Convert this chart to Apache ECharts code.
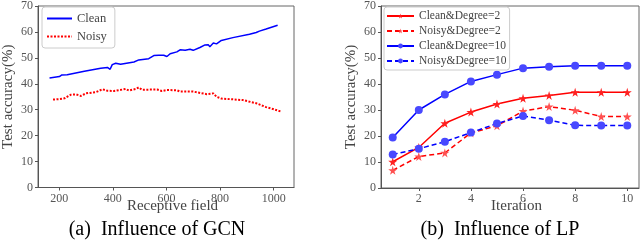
<!DOCTYPE html>
<html>
<head>
<meta charset="utf-8">
<script src="https://cdn.jsdelivr.net/npm/echarts@6/dist/echarts.min.js"></script>
<style>html,body{margin:0;padding:0;background:#fff;}#c{width:640px;height:244px;}</style>
</head>
<body>
<div id="c"></div>
<script>
// ---- Panel (a): Influence of GCN ----
const cleanField = [164,201,210,214,230,294,355,380,390,398,411,429,479,497,534,553,571,577,590,602,614,639,651,670,688,700,725,744,756,762,775,787,805,848,910,935,947,972,1015];
const cleanAcc   = [42.2,42.8,43.4,43.2,43.5,44.8,46.0,46.3,45.6,47.4,47.9,47.5,48.4,49.2,49.7,50.9,51.0,50.3,51.0,50.5,51.6,52.3,53.1,52.9,53.3,52.9,54.0,55.0,55.1,54.3,55.7,55.4,56.7,57.8,59.1,59.8,60.3,61.1,62.6];
const noisyField = [177,201,220,232,244,263,281,300,337,362,380,405,448,460,485,497,509,565,583,602,639,651,700,750,775,787,805,848,886,935,972,997,1027];
const noisyAcc   = [33.9,34.1,34.4,35.1,35.8,35.9,35.3,36.3,36.8,37.9,37.3,37.2,38.0,37.4,38.0,38.6,37.7,37.8,37.2,37.6,37.5,37.0,37.0,36.0,36.3,35.0,34.3,34.0,33.7,32.5,31.0,30.3,29.3];
const gcnTicks = [200,400,600,800,1000];

// ---- Panel (b): Influence of LP ----
const iterations   = [1,2,3,4,5,6,7,8,9,10];
const cleanDeg2    = [10.1,15.6,24.9,29.2,32.3,34.5,35.6,36.8,36.8,36.8];
const noisyDeg2    = [6.8,12.1,13.5,21.2,23.9,29.6,31.3,29.9,27.5,27.5];
const cleanDeg10   = [19.4,30.0,36.0,41.0,43.6,46.1,46.6,47.0,47.0,47.0];
const noisyDeg10   = [12.9,15.1,17.8,21.3,24.8,27.7,26.1,24.1,24.0,24.0];
const lpTicks = [2,4,6,8,10];

const accTicksMax = 70;
const FONT = '"Liberation Serif","Times New Roman",serif';
const STAR = 'path://M50,0 L61,35 L98,35 L68,57 L79,91 L50,70 L21,91 L32,57 L2,35 L39,35 Z';

const zip = (xs, ys) => xs.map((x, i) => [x, ys[i]]);

const axisCommon = {
  axisLine: { show: true, lineStyle: { color: '#555', width: 1 } },
  axisTick: { show: true, inside: false, length: 3, lineStyle: { color: '#555' } },
  splitLine: { show: false },
  axisLabel: { color: '#555', fontFamily: FONT, fontSize: 12, margin: 5, formatter: v => String(v) },
  nameTextStyle: { color: '#444', fontFamily: FONT, fontSize: 15 }
};

function yAxis(gridIndex) {
  return Object.assign({}, axisCommon, {
    type: 'value', gridIndex, min: 0, max: accTicksMax, interval: 10,
    name: 'Test accuracy(%)', nameLocation: 'middle', nameGap: 22
  });
}

const xNameStyle = Object.assign({}, axisCommon.nameTextStyle, { padding: [0, 0, 0, 13] });

const chart = echarts.init(document.getElementById('c'), null, { renderer: 'canvas' });
chart.setOption({
  animation: false,
  backgroundColor: '#fff',
  textStyle: { fontFamily: FONT },
  grid: [
    { left: 36, right: 346, top: 4, bottom: 56.5, show: true, borderColor: '#666', borderWidth: 1, backgroundColor: 'transparent', containLabel: false },
    { left: 381, right: 1, top: 5.5, bottom: 56, show: true, borderColor: '#666', borderWidth: 1, backgroundColor: 'transparent', containLabel: false }
  ],
  xAxis: [
    Object.assign({}, axisCommon, {
      type: 'value', gridIndex: 0, min: 121, max: 1076,
      axisTick: Object.assign({}, axisCommon.axisTick, { customValues: gcnTicks }),
      axisLabel: Object.assign({}, axisCommon.axisLabel, { customValues: gcnTicks }),
      name: 'Receptive field', nameLocation: 'middle', nameGap: 11, nameMoveOverlap: false,
      nameTextStyle: xNameStyle
    }),
    Object.assign({}, axisCommon, {
      type: 'value', gridIndex: 1, min: 0.55, max: 10.45,
      axisTick: Object.assign({}, axisCommon.axisTick, { customValues: lpTicks }),
      axisLabel: Object.assign({}, axisCommon.axisLabel, { customValues: lpTicks }),
      name: 'Iteration', nameLocation: 'middle', nameGap: 11, nameMoveOverlap: false,
      nameTextStyle: xNameStyle
    })
  ],
  yAxis: [yAxis(0), yAxis(1)],
  legend: [
    {
      data: ['Clean', 'Noisy'], orient: 'vertical', left: 42, top: 7,
      itemWidth: 25, itemHeight: 8, itemGap: 5, padding: [5, 8, 5, 4],
      itemStyle: { opacity: 0 },
      borderColor: '#ccc', borderWidth: 1, borderRadius: 3, backgroundColor: 'rgba(255,255,255,0.8)',
      textStyle: { fontFamily: FONT, fontSize: 12.5, lineHeight: 12, color: '#444' }
    },
    {
      data: ['Clean&Degree=2', 'Noisy&Degree=2', 'Clean&Degree=10', 'Noisy&Degree=10'],
      orient: 'vertical', left: 384, top: 7,
      itemWidth: 27, itemHeight: 6, itemGap: 3, padding: [3, 3, 3, 2],
      borderColor: '#ccc', borderWidth: 1, borderRadius: 3, backgroundColor: 'rgba(255,255,255,0.8)',
      textStyle: { fontFamily: FONT, fontSize: 11.5, lineHeight: 12, color: '#444' }
    }
  ],
  graphic: [
    { type: 'text', x: 157, y: 230, style: { text: '(a)  Influence of GCN', font: '20px ' + FONT, fill: '#000', textAlign: 'center', textVerticalAlign: 'middle' } },
    { type: 'text', x: 500, y: 230, style: { text: '(b)  Influence of LP', font: '20px ' + FONT, fill: '#000', textAlign: 'center', textVerticalAlign: 'middle' } }
  ],
  series: [
    { name: 'Clean', type: 'line', xAxisIndex: 0, yAxisIndex: 0, data: zip(cleanField, cleanAcc),
      showSymbol: false, symbol: 'none', lineStyle: { color: '#0000ff', width: 1.5 }, itemStyle: { color: '#0000ff' } },
    { name: 'Noisy', type: 'line', xAxisIndex: 0, yAxisIndex: 0, data: zip(noisyField, noisyAcc),
      showSymbol: false, symbol: 'none', lineStyle: { color: '#ff0000', width: 2, type: [2, 1.5] }, itemStyle: { color: '#ff0000' } },
    { name: 'Clean&Degree=2', type: 'line', xAxisIndex: 1, yAxisIndex: 1, data: zip(iterations, cleanDeg2),
      symbol: STAR, symbolSize: 9, lineStyle: { color: '#ff0000', width: 1.5 }, itemStyle: { color: '#ff2020' } },
    { name: 'Noisy&Degree=2', type: 'line', xAxisIndex: 1, yAxisIndex: 1, data: zip(iterations, noisyDeg2),
      symbol: STAR, symbolSize: 9, lineStyle: { color: '#ff0000', width: 1.5, type: [5, 3] }, itemStyle: { color: '#ff5050' } },
    { name: 'Clean&Degree=10', type: 'line', xAxisIndex: 1, yAxisIndex: 1, data: zip(iterations, cleanDeg10),
      symbol: 'circle', symbolSize: 8, lineStyle: { color: '#0000ff', width: 1.5 }, itemStyle: { color: '#4848ff' } },
    { name: 'Noisy&Degree=10', type: 'line', xAxisIndex: 1, yAxisIndex: 1, data: zip(iterations, noisyDeg10),
      symbol: 'circle', symbolSize: 8, lineStyle: { color: '#0000ff', width: 1.5, type: [5, 3] }, itemStyle: { color: '#4848ff' } }
  ]
});
</script>
</body>
</html>
